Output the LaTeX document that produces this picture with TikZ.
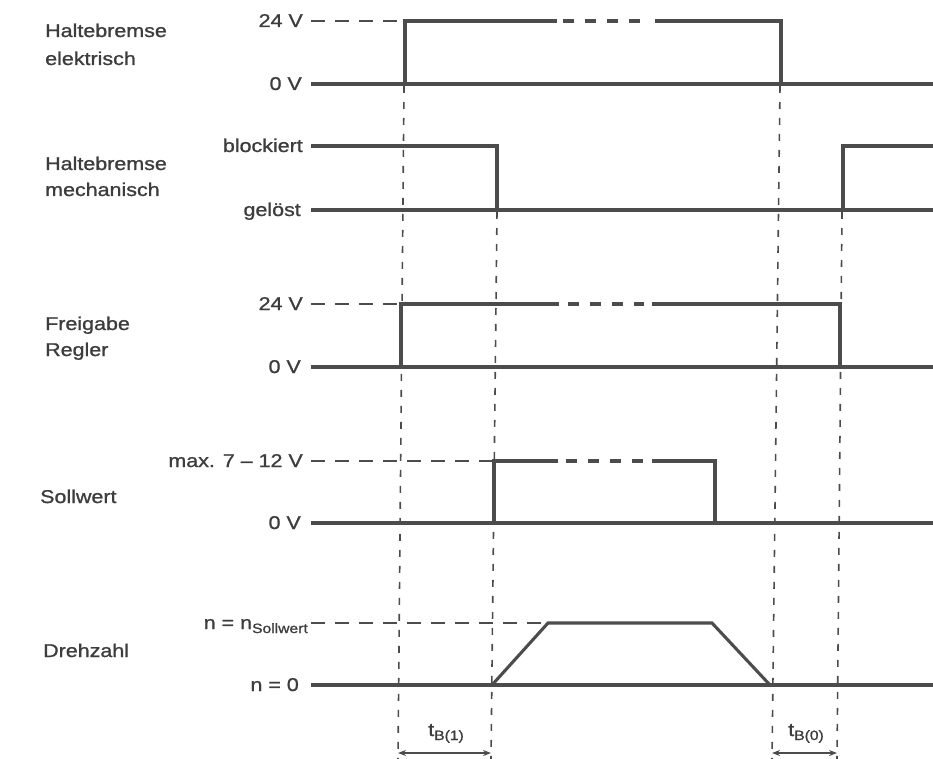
\documentclass[tikz,border=0pt]{standalone}
\usepackage{fontspec}
\setmainfont{Liberation Sans}[FakeStretch=1.16,FakeBold=1.1]
\usetikzlibrary{arrows.meta}
\definecolor{ink}{gray}{0.30}
\definecolor{txt}{gray}{0.24}
\newcommand{\subtxt}[1]{\raisebox{-4pt}{\fontsize{13.5}{13.5}\selectfont #1}}
\begin{document}
\begin{tikzpicture}[x=1pt,y=-1pt,
  font=\fontsize{18.5}{20}\selectfont,
  sig/.style={draw=ink, line width=3.1pt, line cap=butt, line join=miter},
  lvl/.style={draw=ink, line width=2.3pt, dash pattern=on 14pt off 10pt},
  gapline/.style={draw=ink, line width=3.1pt, dash pattern=on 11pt off 11pt},
  vguide/.style={draw=ink, line width=1.6pt, dash pattern=on 7pt off 9pt},
  lab/.style={text=txt, inner sep=0pt, anchor=base west},
  lvllab/.style={text=txt, inner sep=0pt, anchor=base east},
  tlab/.style={text=txt, inner sep=0pt, anchor=base},
  dim/.style={draw=ink, line width=1.8pt, {Stealth[length=8pt,width=6pt]}-{Stealth[length=8pt,width=6pt]}}]
\useasboundingbox (0,0) rectangle (933,759);

% ---- left titles
\node[lab] (he1) at (45,37) {Haltebremse};
\node[lab] (he2) at (45,65) {elektrisch};
\node[lab] (hm1) at (45,170) {Haltebremse};
\node[lab] (hm2) at (45,196) {mechanisch};
\node[lab] (fr1) at (45,330) {Freigabe};
\node[lab] (fr2) at (45,356) {Regler};
\node[lab] (sw)  at (40,503) {Sollwert};
\node[lab] (dz)  at (43,657) {Drehzahl};

% ---- level labels
\node[lvllab] (e24) at (303,27)  {24 V};
\node[lvllab] (e0)  at (302,90)  {0 V};
\node[lvllab] (mb)  at (303,152) {blockiert};
\node[lvllab] (mg)  at (301,216) {gelöst};
\node[lvllab] (f24) at (303,310) {24 V};
\node[lvllab] (f0)  at (301,373) {0 V};
\node[lvllab] (smx) at (303,467) {max. 7 – 12 V};
\node[lvllab] (s0)  at (301,529) {0 V};
\node[lvllab] (dn)  at (308,629) {n = n\subtxt{Sollwert}};
\node[lvllab] (d0)  at (299,691) {n = 0};

% ---- Haltebremse elektrisch
\draw[sig] (311,84) -- (933,84);
\draw[lvl] (311,21) -- (405,21);
\draw[sig] (405,84) -- (405,21) -- (557,21);
\draw[gapline] (563,21) -- (646,21);
\draw[sig] (655,21) -- (781,21) -- (781,84);

% ---- Haltebremse mechanisch
\draw[sig] (311,210) -- (933,210);
\draw[sig] (311,146) -- (497,146) -- (497,210);
\draw[sig] (843,210) -- (843,146) -- (933,146);

% ---- Freigabe Regler
\draw[sig] (311,367) -- (933,367);
\draw[lvl] (311,304) -- (401,304);
\draw[sig] (401,367) -- (401,304) -- (559,304);
\draw[gapline] (568,304) -- (644,304);
\draw[sig] (652,304) -- (840,304) -- (840,367);

% ---- Sollwert
\draw[sig] (311,523) -- (933,523);
\draw[lvl] (311,461) -- (494,461);
\draw[sig] (494,523) -- (494,461) -- (558,461);
\draw[gapline] (566,461) -- (646,461);
\draw[sig] (652,461) -- (715,461) -- (715,523);

% ---- Drehzahl
\draw[sig] (311,685) -- (933,685);
\draw[lvl] (311,623) -- (548,623);
\draw[sig] (492,685) -- (548,623) -- (712,623) -- (770,685);

% ---- vertical guides
\coordinate (g1t) at (404,86);  \coordinate (g1b) at (398,759);
\coordinate (g2t) at (497,212); \coordinate (g2b) at (491,759);
\coordinate (g3t) at (780,86);  \coordinate (g3b) at (772,759);
\coordinate (g4t) at (842,212); \coordinate (g4b) at (837,759);
\draw[vguide] (g1t) -- (g1b);
\draw[vguide] (g2t) -- (g2b);
\draw[vguide] (g3t) -- (g3b);
\draw[vguide] (g4t) -- (g4b);

% ---- time intervals
\coordinate (a1l) at (398,753); \coordinate (a1r) at (491,753);
\coordinate (a2l) at (772,753); \coordinate (a2r) at (837,753);
\draw[dim] (a1l) -- (a1r);
\draw[dim] (a2l) -- (a2r);
\node[tlab] (tb1) at (446,736) {t\subtxt{B(1)}};
\node[tlab] (tb0) at (806,736) {t\subtxt{B(0)}};
\end{tikzpicture}
\end{document}
